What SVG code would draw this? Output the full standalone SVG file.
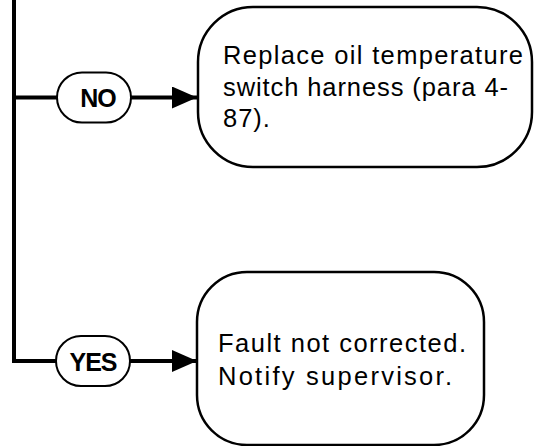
<svg xmlns="http://www.w3.org/2000/svg" width="535" height="446" viewBox="0 0 535 446">
<style>
.box{fill:#fff;stroke:#000;stroke-width:2.5}
.pill{fill:#fff;stroke:#000;stroke-width:2}
.line{fill:none;stroke:#000;stroke-width:4;stroke-linejoin:miter}
.txt{font-family:"Liberation Sans",Arial,sans-serif;font-size:25.5px;fill:#000}
.lbl{font-family:"Liberation Sans",Arial,sans-serif;font-size:25px;font-weight:bold;fill:#000;text-anchor:middle;letter-spacing:-1px}
</style>
<defs>
<marker id="arr" markerUnits="userSpaceOnUse" markerWidth="26" markerHeight="24" refX="25" refY="11" orient="auto">
<path d="M0,0 L25,11 L0,22 Z" fill="#000"/>
</marker>
</defs>
<g id="connectors">
<polyline class="line" points="14,0 14,361 56,361"/>
<line class="line" x1="14" y1="97.5" x2="57" y2="97.5"/>
<line class="line" x1="131" y1="97.5" x2="197" y2="97.5" marker-end="url(#arr)"/>
<line class="line" x1="130" y1="361" x2="197" y2="361" marker-end="url(#arr)"/>
</g>
<g id="no-label">
<rect class="pill" x="57" y="72.5" width="74" height="50" rx="25"/>
<text class="lbl" x="98" y="107">NO</text>
</g>
<g id="yes-label">
<rect class="pill" x="56" y="336" width="74" height="50" rx="25"/>
<text class="lbl" x="93" y="371">YES</text>
</g>
<g id="replace-box">
<rect class="box" x="198" y="7" width="334" height="160" rx="55"/>
<text class="txt" x="223" y="64" textLength="300" lengthAdjust="spacing">Replace oil temperature</text>
<text class="txt" x="223" y="95.5" textLength="285" lengthAdjust="spacing">switch harness (para 4-</text>
<text class="txt" x="223" y="127" letter-spacing="1">87).</text>
</g>
<g id="fault-box">
<rect class="box" x="197" y="272" width="287" height="173" rx="50"/>
<text class="txt" x="218" y="352" textLength="248" lengthAdjust="spacing">Fault not corrected.</text>
<text class="txt" x="218" y="385" textLength="234" lengthAdjust="spacing">Notify supervisor.</text>
</g>
</svg>
